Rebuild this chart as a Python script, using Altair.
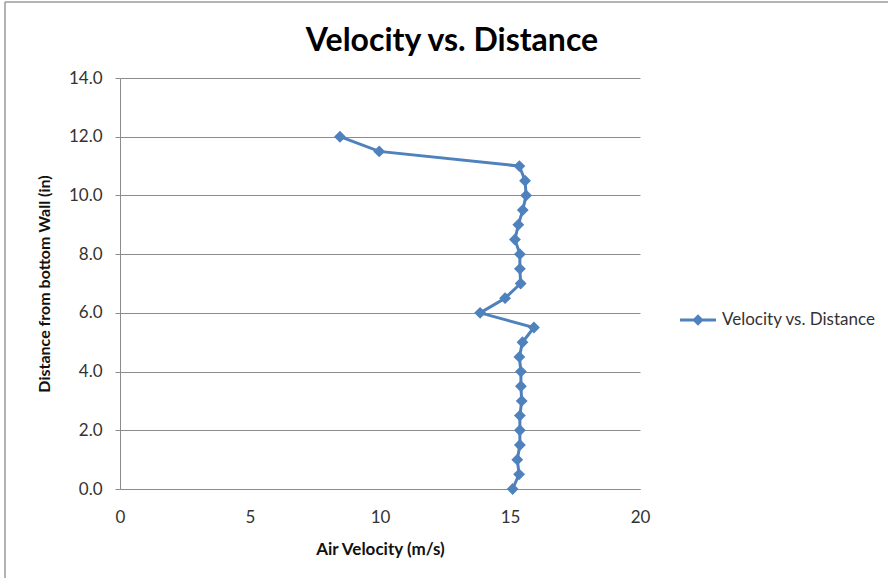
import altair as alt
import pandas as pd

# Distance from the bottom wall (in) and measured air velocity (m/s)
distance_in = [0.0, 0.5, 1.0, 1.5, 2.0, 2.5, 3.0, 3.5, 4.0, 4.5, 5.0, 5.5,
               6.0, 6.5, 7.0, 7.5, 8.0, 8.5, 9.0, 9.5, 10.0, 10.5, 11.0, 11.5, 12.0]
velocity_ms = [15.10, 15.35, 15.28, 15.38, 15.38, 15.38, 15.45, 15.42, 15.42, 15.36, 15.48, 15.92,
               13.85, 14.81, 15.41, 15.38, 15.38, 15.19, 15.32, 15.49, 15.62, 15.58, 15.36, 9.97, 8.46]
series_name = "Velocity vs. Distance"
chart_title = "Velocity vs. Distance"

df = pd.DataFrame({"distance": distance_in, "velocity": velocity_ms, "series": series_name})
title_df = pd.DataFrame({"label": [chart_title]})

BLUE = "#4F81BD"
GRID = "#8C8C8C"
TEXT = "#333333"
FONT = "Lato"

x = alt.X("velocity:Q", title="Air Velocity (m/s)",
          scale=alt.Scale(domain=[0, 20], nice=False, zero=False),
          axis=alt.Axis(values=[0, 5, 10, 15, 20], format="d", grid=False, ticks=False,
                        domain=True, domainColor=GRID, labelPadding=20, titlePadding=16,
                        labelFlush=False, titleFontSize=17))
y = alt.Y("distance:Q", title="Distance from bottom Wall (in)",
          scale=alt.Scale(domain=[0, 14], nice=False, zero=False),
          axis=alt.Axis(values=[0, 2, 4, 6, 8, 10, 12, 14], format=".1f", grid=True,
                        gridColor=GRID, ticks=True, tickSize=5, tickColor=GRID,
                        domain=True, domainColor=GRID, labelPadding=13, titlePadding=16,
                        labelFlush=False, titleFontSize=16))

line = alt.Chart(df).mark_line(color=BLUE, strokeWidth=3).encode(
    x=x, y=y, order="distance:Q")

legend_symbol = "M-1,-0.08L1,-0.08L1,0.08L-1,0.08Z M0,-0.32L0.32,0L0,0.32L-0.32,0Z"
points = alt.Chart(df).mark_point(shape="diamond", filled=True, size=140, opacity=1).encode(
    x=x, y=y,
    color=alt.Color("series:N", scale=alt.Scale(range=[BLUE]),
                    legend=alt.Legend(title=None, orient="none", legendX=560, legendY=224,
                                      symbolType=legend_symbol, symbolSize=1296,
                                      symbolStrokeWidth=0, symbolOpacity=1,
                                      labelFontSize=17, labelFont=FONT, labelColor=TEXT,
                                      labelOffset=6)))

# Chart heading, centred over the whole chart area
heading = alt.Chart(title_df).mark_text(
    font=FONT, fontSize=32, fontWeight="bold", color="#000000",
    align="center", baseline="middle"
).encode(text="label:N", x=alt.value(332), y=alt.value(-37))

# Outer chart frame (top and left edges)
frame_top = alt.Chart(title_df).mark_rule(color="#9A9A9A", strokeWidth=1.5).encode(
    x=alt.value(-115), x2=alt.value(800), y=alt.value(-76))
frame_left = alt.Chart(title_df).mark_rule(color="#9A9A9A", strokeWidth=1.5).encode(
    x=alt.value(-115), y=alt.value(-76), y2=alt.value(520))

chart = alt.layer(frame_top, frame_left, heading, line, points).properties(
    width=520, height=411,
    autosize="none",
    padding={"left": 120, "top": 78, "right": 248, "bottom": 89},
).configure(background="white").configure_view(stroke=None).configure_axis(
    labelFont=FONT, titleFont=FONT, labelFontSize=17,
    labelColor=TEXT, titleColor="#111111", titleFontWeight="bold"
)

chart.save("out.html", embed_options={"renderer": "svg", "actions": False})
